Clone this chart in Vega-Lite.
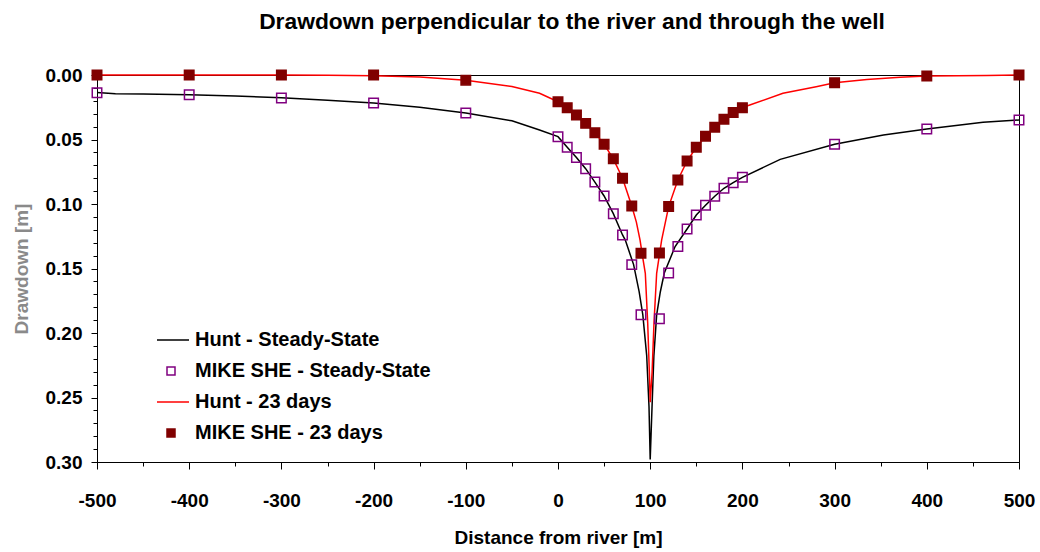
{
  "$schema": "https://vega.github.io/schema/vega-lite/v6.json",
  "width": 922,
  "height": 387,
  "autosize": {"type": "none"},
  "padding": {"left": 97, "top": 75, "right": 21, "bottom": 90},
  "background": "white",
  "title": {
    "text": "Drawdown perpendicular to the river and  through the well",
    "font": "Liberation Sans",
    "fontSize": 22.8,
    "fontWeight": "bold",
    "color": "black",
    "anchor": "middle",
    "dx": 14,
    "offset": 32
  },
  "config": {
    "font": "Liberation Sans",
    "view": {"stroke": "black", "strokeWidth": 1},
    "axis": {
      "grid": false,
      "domainColor": "black",
      "domainWidth": 1,
      "tickColor": "black",
      "tickWidth": 1,
      "labelFont": "Liberation Sans",
      "labelFontSize": 19,
      "labelFontWeight": "bold",
      "labelColor": "black",
      "labelOverlap": false,
      "labelFlush": false,
      "titleFont": "Liberation Sans",
      "titleFontSize": 19,
      "titleFontWeight": "bold",
      "titleColor": "black"
    },
    "legend": {
      "title": null,
      "orient": "none",
      "labelFont": "Liberation Sans",
      "labelFontSize": 20,
      "labelFontWeight": "bold",
      "labelColor": "black",
      "labelLimit": 400,
      "labelOffset": 14,
      "symbolSize": 64,
      "symbolStrokeWidth": 1.5,
      "rowPadding": 11,
      "padding": 0
    }
  },
  "datasets": {
    "hunt": [
      {"x": -500, "drawdown": 0.0135, "series": "Hunt - Steady-State"},
      {"x": -480, "drawdown": 0.0145, "series": "Hunt - Steady-State"},
      {"x": -450, "drawdown": 0.0148, "series": "Hunt - Steady-State"},
      {"x": -400, "drawdown": 0.0153, "series": "Hunt - Steady-State"},
      {"x": -350, "drawdown": 0.0163, "series": "Hunt - Steady-State"},
      {"x": -300, "drawdown": 0.0177, "series": "Hunt - Steady-State"},
      {"x": -250, "drawdown": 0.0195, "series": "Hunt - Steady-State"},
      {"x": -200, "drawdown": 0.0218, "series": "Hunt - Steady-State"},
      {"x": -150, "drawdown": 0.025, "series": "Hunt - Steady-State"},
      {"x": -100, "drawdown": 0.0295, "series": "Hunt - Steady-State"},
      {"x": -50, "drawdown": 0.0355, "series": "Hunt - Steady-State"},
      {"x": -20, "drawdown": 0.0426, "series": "Hunt - Steady-State"},
      {"x": 0, "drawdown": 0.0478, "series": "Hunt - Steady-State"},
      {"x": 10, "drawdown": 0.056, "series": "Hunt - Steady-State"},
      {"x": 20, "drawdown": 0.064, "series": "Hunt - Steady-State"},
      {"x": 30, "drawdown": 0.0726, "series": "Hunt - Steady-State"},
      {"x": 40, "drawdown": 0.083, "series": "Hunt - Steady-State"},
      {"x": 50, "drawdown": 0.0938, "series": "Hunt - Steady-State"},
      {"x": 60, "drawdown": 0.1075, "series": "Hunt - Steady-State"},
      {"x": 70, "drawdown": 0.124, "series": "Hunt - Steady-State"},
      {"x": 73, "drawdown": 0.128, "series": "Hunt - Steady-State"},
      {"x": 82, "drawdown": 0.147, "series": "Hunt - Steady-State"},
      {"x": 88, "drawdown": 0.168, "series": "Hunt - Steady-State"},
      {"x": 92, "drawdown": 0.186, "series": "Hunt - Steady-State"},
      {"x": 96.2, "drawdown": 0.2175, "series": "Hunt - Steady-State"},
      {"x": 98.7, "drawdown": 0.257, "series": "Hunt - Steady-State"},
      {"x": 100, "drawdown": 0.298, "series": "Hunt - Steady-State"},
      {"x": 102, "drawdown": 0.257, "series": "Hunt - Steady-State"},
      {"x": 104, "drawdown": 0.2175, "series": "Hunt - Steady-State"},
      {"x": 107, "drawdown": 0.186, "series": "Hunt - Steady-State"},
      {"x": 111, "drawdown": 0.168, "series": "Hunt - Steady-State"},
      {"x": 115.3, "drawdown": 0.1535, "series": "Hunt - Steady-State"},
      {"x": 127, "drawdown": 0.133, "series": "Hunt - Steady-State"},
      {"x": 140, "drawdown": 0.1194, "series": "Hunt - Steady-State"},
      {"x": 150, "drawdown": 0.1085, "series": "Hunt - Steady-State"},
      {"x": 160, "drawdown": 0.101, "series": "Hunt - Steady-State"},
      {"x": 170, "drawdown": 0.094, "series": "Hunt - Steady-State"},
      {"x": 180, "drawdown": 0.0878, "series": "Hunt - Steady-State"},
      {"x": 190, "drawdown": 0.0835, "series": "Hunt - Steady-State"},
      {"x": 200, "drawdown": 0.0793, "series": "Hunt - Steady-State"},
      {"x": 241, "drawdown": 0.0654, "series": "Hunt - Steady-State"},
      {"x": 300, "drawdown": 0.0537, "series": "Hunt - Steady-State"},
      {"x": 353, "drawdown": 0.0465, "series": "Hunt - Steady-State"},
      {"x": 400, "drawdown": 0.0419, "series": "Hunt - Steady-State"},
      {"x": 461, "drawdown": 0.0367, "series": "Hunt - Steady-State"},
      {"x": 500, "drawdown": 0.0349, "series": "Hunt - Steady-State"},

      {"x": -500, "drawdown": 0, "series": "Hunt - 23 days"},
      {"x": -400, "drawdown": 0, "series": "Hunt - 23 days"},
      {"x": -300, "drawdown": 0, "series": "Hunt - 23 days"},
      {"x": -250, "drawdown": 0.0002, "series": "Hunt - 23 days"},
      {"x": -200, "drawdown": 0.0005, "series": "Hunt - 23 days"},
      {"x": -150, "drawdown": 0.0015, "series": "Hunt - 23 days"},
      {"x": -100, "drawdown": 0.004, "series": "Hunt - 23 days"},
      {"x": -50, "drawdown": 0.009, "series": "Hunt - 23 days"},
      {"x": -20, "drawdown": 0.0142, "series": "Hunt - 23 days"},
      {"x": 0, "drawdown": 0.0207, "series": "Hunt - 23 days"},
      {"x": 10, "drawdown": 0.0253, "series": "Hunt - 23 days"},
      {"x": 20, "drawdown": 0.031, "series": "Hunt - 23 days"},
      {"x": 30, "drawdown": 0.0375, "series": "Hunt - 23 days"},
      {"x": 40, "drawdown": 0.0447, "series": "Hunt - 23 days"},
      {"x": 50, "drawdown": 0.0537, "series": "Hunt - 23 days"},
      {"x": 60, "drawdown": 0.065, "series": "Hunt - 23 days"},
      {"x": 70, "drawdown": 0.08, "series": "Hunt - 23 days"},
      {"x": 80, "drawdown": 0.1016, "series": "Hunt - 23 days"},
      {"x": 85, "drawdown": 0.114, "series": "Hunt - 23 days"},
      {"x": 89, "drawdown": 0.128, "series": "Hunt - 23 days"},
      {"x": 92, "drawdown": 0.142, "series": "Hunt - 23 days"},
      {"x": 94.7, "drawdown": 0.1537, "series": "Hunt - 23 days"},
      {"x": 97.3, "drawdown": 0.1925, "series": "Hunt - 23 days"},
      {"x": 99.1, "drawdown": 0.231, "series": "Hunt - 23 days"},
      {"x": 100, "drawdown": 0.2537, "series": "Hunt - 23 days"},
      {"x": 102, "drawdown": 0.231, "series": "Hunt - 23 days"},
      {"x": 104.1, "drawdown": 0.1925, "series": "Hunt - 23 days"},
      {"x": 107, "drawdown": 0.1537, "series": "Hunt - 23 days"},
      {"x": 112.4, "drawdown": 0.128, "series": "Hunt - 23 days"},
      {"x": 120, "drawdown": 0.102, "series": "Hunt - 23 days"},
      {"x": 130, "drawdown": 0.0814, "series": "Hunt - 23 days"},
      {"x": 140, "drawdown": 0.0667, "series": "Hunt - 23 days"},
      {"x": 150, "drawdown": 0.056, "series": "Hunt - 23 days"},
      {"x": 160, "drawdown": 0.0475, "series": "Hunt - 23 days"},
      {"x": 170, "drawdown": 0.0405, "series": "Hunt - 23 days"},
      {"x": 180, "drawdown": 0.0343, "series": "Hunt - 23 days"},
      {"x": 190, "drawdown": 0.029, "series": "Hunt - 23 days"},
      {"x": 200, "drawdown": 0.0253, "series": "Hunt - 23 days"},
      {"x": 208, "drawdown": 0.0233, "series": "Hunt - 23 days"},
      {"x": 244, "drawdown": 0.0142, "series": "Hunt - 23 days"},
      {"x": 280, "drawdown": 0.0091, "series": "Hunt - 23 days"},
      {"x": 300, "drawdown": 0.006, "series": "Hunt - 23 days"},
      {"x": 335, "drawdown": 0.0034, "series": "Hunt - 23 days"},
      {"x": 371, "drawdown": 0.0018, "series": "Hunt - 23 days"},
      {"x": 400, "drawdown": 0.0008, "series": "Hunt - 23 days"},
      {"x": 465, "drawdown": 0.0003, "series": "Hunt - 23 days"},
      {"x": 500, "drawdown": 0, "series": "Hunt - 23 days"}
    ],
    "mikeshe": [
      {"x": -500, "drawdown": 0.0137, "series": "MIKE SHE - Steady-State"},
      {"x": -400, "drawdown": 0.0153, "series": "MIKE SHE - Steady-State"},
      {"x": -300, "drawdown": 0.0178, "series": "MIKE SHE - Steady-State"},
      {"x": -200, "drawdown": 0.0217, "series": "MIKE SHE - Steady-State"},
      {"x": -100, "drawdown": 0.0295, "series": "MIKE SHE - Steady-State"},
      {"x": 0, "drawdown": 0.0478, "series": "MIKE SHE - Steady-State"},
      {"x": 10, "drawdown": 0.056, "series": "MIKE SHE - Steady-State"},
      {"x": 20, "drawdown": 0.064, "series": "MIKE SHE - Steady-State"},
      {"x": 30, "drawdown": 0.0726, "series": "MIKE SHE - Steady-State"},
      {"x": 40, "drawdown": 0.083, "series": "MIKE SHE - Steady-State"},
      {"x": 50, "drawdown": 0.0938, "series": "MIKE SHE - Steady-State"},
      {"x": 60, "drawdown": 0.1075, "series": "MIKE SHE - Steady-State"},
      {"x": 70, "drawdown": 0.124, "series": "MIKE SHE - Steady-State"},
      {"x": 80, "drawdown": 0.147, "series": "MIKE SHE - Steady-State"},
      {"x": 90, "drawdown": 0.1858, "series": "MIKE SHE - Steady-State"},
      {"x": 110, "drawdown": 0.1889, "series": "MIKE SHE - Steady-State"},
      {"x": 120, "drawdown": 0.1535, "series": "MIKE SHE - Steady-State"},
      {"x": 130, "drawdown": 0.133, "series": "MIKE SHE - Steady-State"},
      {"x": 140, "drawdown": 0.1194, "series": "MIKE SHE - Steady-State"},
      {"x": 150, "drawdown": 0.1085, "series": "MIKE SHE - Steady-State"},
      {"x": 160, "drawdown": 0.101, "series": "MIKE SHE - Steady-State"},
      {"x": 170, "drawdown": 0.094, "series": "MIKE SHE - Steady-State"},
      {"x": 180, "drawdown": 0.0878, "series": "MIKE SHE - Steady-State"},
      {"x": 190, "drawdown": 0.0835, "series": "MIKE SHE - Steady-State"},
      {"x": 200, "drawdown": 0.0793, "series": "MIKE SHE - Steady-State"},
      {"x": 300, "drawdown": 0.0537, "series": "MIKE SHE - Steady-State"},
      {"x": 400, "drawdown": 0.0419, "series": "MIKE SHE - Steady-State"},
      {"x": 500, "drawdown": 0.0349, "series": "MIKE SHE - Steady-State"},

      {"x": -500, "drawdown": 0, "series": "MIKE SHE - 23 days"},
      {"x": -400, "drawdown": 0, "series": "MIKE SHE - 23 days"},
      {"x": -300, "drawdown": 0, "series": "MIKE SHE - 23 days"},
      {"x": -200, "drawdown": 0, "series": "MIKE SHE - 23 days"},
      {"x": -100, "drawdown": 0.004, "series": "MIKE SHE - 23 days"},
      {"x": 0, "drawdown": 0.0207, "series": "MIKE SHE - 23 days"},
      {"x": 10, "drawdown": 0.0253, "series": "MIKE SHE - 23 days"},
      {"x": 20, "drawdown": 0.031, "series": "MIKE SHE - 23 days"},
      {"x": 30, "drawdown": 0.0375, "series": "MIKE SHE - 23 days"},
      {"x": 40, "drawdown": 0.0447, "series": "MIKE SHE - 23 days"},
      {"x": 50, "drawdown": 0.0537, "series": "MIKE SHE - 23 days"},
      {"x": 60, "drawdown": 0.065, "series": "MIKE SHE - 23 days"},
      {"x": 70, "drawdown": 0.08, "series": "MIKE SHE - 23 days"},
      {"x": 80, "drawdown": 0.1016, "series": "MIKE SHE - 23 days"},
      {"x": 90, "drawdown": 0.1382, "series": "MIKE SHE - 23 days"},
      {"x": 110, "drawdown": 0.138, "series": "MIKE SHE - 23 days"},
      {"x": 120, "drawdown": 0.102, "series": "MIKE SHE - 23 days"},
      {"x": 130, "drawdown": 0.0814, "series": "MIKE SHE - 23 days"},
      {"x": 140, "drawdown": 0.0667, "series": "MIKE SHE - 23 days"},
      {"x": 150, "drawdown": 0.056, "series": "MIKE SHE - 23 days"},
      {"x": 160, "drawdown": 0.0475, "series": "MIKE SHE - 23 days"},
      {"x": 170, "drawdown": 0.0405, "series": "MIKE SHE - 23 days"},
      {"x": 180, "drawdown": 0.0343, "series": "MIKE SHE - 23 days"},
      {"x": 190, "drawdown": 0.029, "series": "MIKE SHE - 23 days"},
      {"x": 200, "drawdown": 0.0253, "series": "MIKE SHE - 23 days"},
      {"x": 300, "drawdown": 0.006, "series": "MIKE SHE - 23 days"},
      {"x": 400, "drawdown": 0.0008, "series": "MIKE SHE - 23 days"},
      {"x": 500, "drawdown": 0, "series": "MIKE SHE - 23 days"}
    ]
  },
  "encoding": {
    "x": {
      "field": "x",
      "type": "quantitative",
      "title": "Distance from river [m]",
      "scale": {"domain": [-500, 500], "nice": false, "zero": false},
      "axis": {
        "values": [-500, -450, -400, -350, -300, -250, -200, -150, -100, -50, 0, 50, 100, 150, 200, 250, 300, 350, 400, 450, 500],
        "labelExpr": "datum.value % 100 === 0 ? '' + datum.value : ''",
        "tickSize": {"condition": {"test": "datum.value % 100 === 0", "value": 7}, "value": 4},
        "labelPadding": 22,
        "titlePadding": 18
      }
    },
    "y": {
      "field": "drawdown",
      "type": "quantitative",
      "title": "Drawdown [m]",
      "scale": {"domain": [0, 0.3], "reverse": true, "nice": false, "zero": false},
      "axis": {
        "values": [0, 0.01, 0.02, 0.03, 0.04, 0.05, 0.06, 0.07, 0.08, 0.09, 0.1, 0.11, 0.12, 0.13, 0.14, 0.15, 0.16, 0.17, 0.18, 0.19, 0.2, 0.21, 0.22, 0.23, 0.24, 0.25, 0.26, 0.27, 0.28, 0.29, 0.3],
        "labelExpr": "round(datum.value * 100) % 5 === 0 ? format(datum.value, '.2f') : ''",
        "tickSize": {"condition": {"test": "round(datum.value * 100) % 5 === 0", "value": 6}, "value": 4},
        "labelPadding": 9,
        "titlePadding": 14,
        "titleColor": "#8a8a8a"
      }
    }
  },
  "layer": [
    {
      "data": {"name": "hunt"},
      "mark": {"type": "line", "strokeWidth": 1.5},
      "encoding": {
        "stroke": {
          "field": "series",
          "type": "nominal",
          "scale": {
            "domain": ["Hunt - Steady-State", "MIKE SHE - Steady-State", "Hunt - 23 days", "MIKE SHE - 23 days"],
            "range": ["#000000", "#800080", "#ff0000", "#800000"]
          },
          "legend": {"legendX": 64, "legendY": 255}
        }
      }
    },
    {
      "data": {"name": "mikeshe"},
      "mark": {"type": "point", "size": 90, "strokeWidth": 1.5, "opacity": 1},
      "encoding": {
        "stroke": {
          "field": "series",
          "type": "nominal",
          "scale": {
            "domain": ["Hunt - Steady-State", "MIKE SHE - Steady-State", "Hunt - 23 days", "MIKE SHE - 23 days"],
            "range": ["#000000", "#800080", "#ff0000", "#800000"]
          },
          "legend": {"legendX": 64, "legendY": 255}
        },
        "fill": {
          "field": "series",
          "type": "nominal",
          "scale": {
            "domain": ["Hunt - Steady-State", "MIKE SHE - Steady-State", "Hunt - 23 days", "MIKE SHE - 23 days"],
            "range": ["transparent", "transparent", "transparent", "#800000"]
          },
          "legend": {"legendX": 64, "legendY": 255}
        },
        "shape": {
          "field": "series",
          "type": "nominal",
          "scale": {
            "domain": ["Hunt - Steady-State", "MIKE SHE - Steady-State", "Hunt - 23 days", "MIKE SHE - 23 days"],
            "range": ["M-3.5,0H4.5", "square", "M-3.5,0H4.5", "square"]
          },
          "legend": {"legendX": 64, "legendY": 255}
        }
      }
    }
  ]
}
